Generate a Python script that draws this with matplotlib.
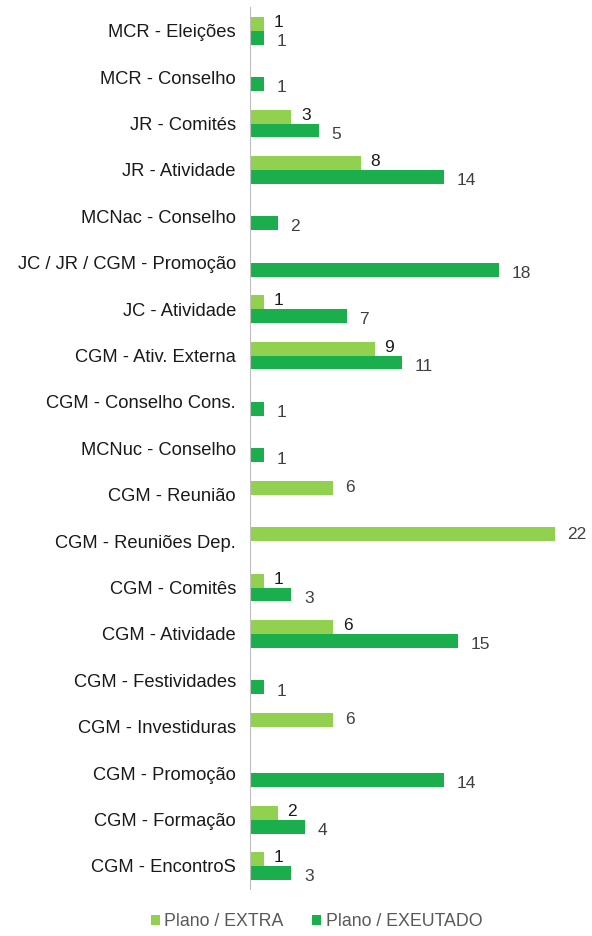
import matplotlib
matplotlib.use("Agg")
import matplotlib.pyplot as plt
import numpy as np

plt.rcParams['font.family'] = ['Liberation Sans', 'DejaVu Sans']

categories = ["MCR - Eleições", "MCR - Conselho", "JR - Comités", "JR - Atividade",
              "MCNac - Conselho", "JC / JR / CGM - Promoção", "JC - Atividade",
              "CGM - Ativ. Externa", "CGM - Conselho Cons.", "MCNuc - Conselho",
              "CGM - Reunião", "CGM - Reuniões Dep.", "CGM - Comitês", "CGM - Atividade",
              "CGM - Festividades", "CGM - Investiduras", "CGM - Promoção",
              "CGM - Formação", "CGM - EncontroS"]
extra = [1, 0, 3, 8, 0, 0, 1, 9, 0, 0, 6, 22, 1, 6, 0, 6, 0, 2, 1]
executado = [1, 1, 5, 14, 2, 18, 7, 11, 1, 1, 0, 0, 3, 15, 1, 0, 14, 4, 3]
series_names = ["Plano / EXTRA", "Plano / EXEUTADO"]

c_light = "#92d050"
c_dark = "#1aaf4c"

fig = plt.figure(figsize=(5.92, 9.36), dpi=100)
ax = fig.add_axes([0.422, 0.050, 0.562, 0.942])

y = np.arange(len(categories))
h = 0.30
ext_vals = np.array(extra, dtype=float)
exe_vals = np.array(executado, dtype=float)
ext_mask = ext_vals > 0
exe_mask = exe_vals > 0

ax.barh(y[ext_mask] - h / 2, ext_vals[ext_mask], height=h, color=c_light, label=series_names[0])
ax.barh(y[exe_mask] + h / 2, exe_vals[exe_mask], height=h, color=c_dark, label=series_names[1])

fs = 12.5
for i in range(len(categories)):
    e, x = extra[i], executado[i]
    if e > 0:
        if x > 0:
            ax.text(e + 0.7, y[i] - h / 2 - 0.03, str(e), ha='left', va='center',
                    fontsize=fs, color='#1a1a1a')
        else:
            ax.text(e + 0.9, y[i] - h / 2, str(e), ha='left', va='center',
                    fontsize=fs, color='#404040')
    if x > 0:
        ax.text(x + 0.9, y[i] + h / 2 + 0.08, str(x), ha='left', va='center',
                fontsize=fs, color='#404040')

ax.set_ylim(len(categories) - 0.5, -0.5)
ax.set_xlim(0, 24)
ax.set_yticks(y)
ax.set_yticklabels(categories, fontsize=13.2, color='#1a1a1a')
ax.set_xticks([])
for s in ['top', 'right', 'bottom']:
    ax.spines[s].set_visible(False)
ax.spines['left'].set_color('#bfbfbf')
ax.tick_params(axis='y', length=0, pad=10)

leg = fig.legend(loc='center', bbox_to_anchor=(0.535, 0.015), ncol=2, frameon=False,
                 fontsize=12.8, handlelength=0.5, handleheight=0.5, handletextpad=0.25,
                 columnspacing=1.6)
for t in leg.get_texts():
    t.set_color('#595959')

fig.savefig("out.png", dpi=100, facecolor='white')
